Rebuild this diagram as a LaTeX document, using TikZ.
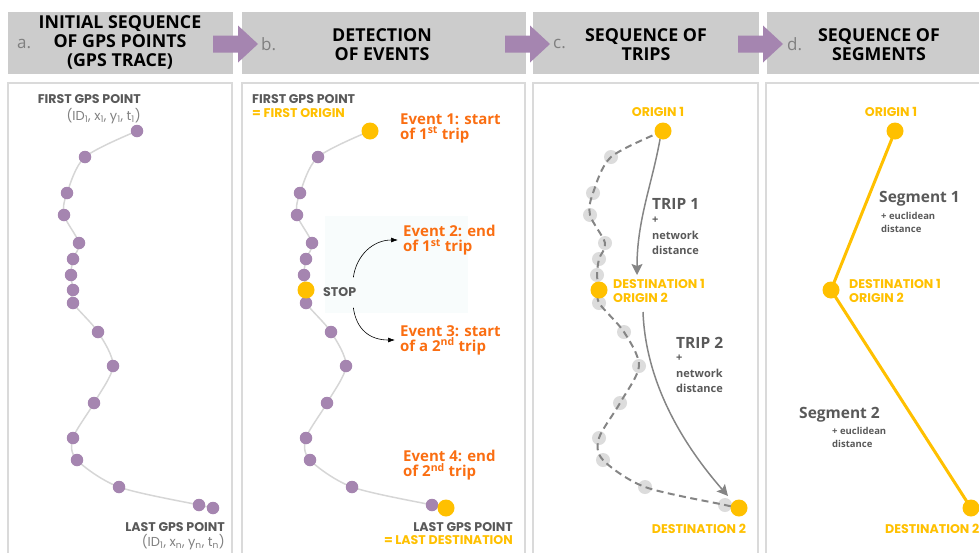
\documentclass[tikz,border=0pt]{standalone}
\usepackage{fontspec}
\setmainfont{Open Sans}
\newfontfamily\capsfont{Poppins}
\usetikzlibrary{arrows.meta,positioning}
\definecolor{gpspurple}{HTML}{A585B0}
\definecolor{gpsyellow}{HTML}{FFC000}
\definecolor{gpsorange}{HTML}{FA6E12}
\definecolor{headgray}{HTML}{CCCCCC}
\definecolor{panelgray}{HTML}{DADADA}
\definecolor{textgray}{HTML}{595959}
\definecolor{lettergray}{HTML}{808080}
\definecolor{tracegray}{HTML}{D6D6D6}
\definecolor{ghostgray}{HTML}{DCDCDC}
\definecolor{arrowgray}{HTML}{858585}
\definecolor{stopbg}{HTML}{F8FCFC}
\tikzstyle{header}   = [fill=headgray, minimum height=62pt, inner sep=0pt, anchor=north west]
\tikzstyle{panel}    = [draw=panelgray, line width=1.2pt]
\tikzstyle{gpsdot}   = [circle, fill=gpspurple, minimum size=12.5pt, inner sep=0pt]
\tikzstyle{ghostdot} = [circle, fill=ghostgray, minimum size=14pt, inner sep=0pt]
\tikzstyle{keydot}   = [circle, fill=gpsyellow, minimum size=17pt, inner sep=0pt]
\tikzstyle{title}    = [font=\bfseries\fontsize{17.8}{19}\selectfont, align=center, inner sep=0pt]
\tikzstyle{letter}   = [font=\fontsize{17}{19}\selectfont, text=lettergray, anchor=west, inner sep=0pt]
\tikzstyle{caps}     = [font=\capsfont\bfseries\fontsize{12.6}{14}\selectfont, text=textgray, inner sep=0pt]
\tikzstyle{coords}   = [font=\capsfont\fontsize{13}{14}\selectfont, text=lettergray, inner sep=0pt]
\tikzstyle{event}    = [font=\bfseries\fontsize{15}{15}\selectfont, text=gpsorange, align=left, anchor=west, inner sep=0pt]
\tikzstyle{trip}     = [font=\bfseries\fontsize{15.5}{18}\selectfont, text=textgray, anchor=west, inner sep=0pt]
\tikzstyle{tripnote} = [font=\bfseries\fontsize{11}{15.5}\selectfont, text=textgray, align=left, anchor=west, inner sep=0pt]
\tikzstyle{segnote}  = [font=\bfseries\fontsize{9.5}{13}\selectfont, text=textgray, align=left, anchor=west, inner sep=0pt]
\tikzstyle{trace}    = [draw=tracegray, line width=1.5pt]
\tikzstyle{dashtrace}= [draw=arrowgray, line width=2pt, dash pattern=on 7pt off 4.5pt]
\tikzstyle{segline}  = [draw=gpsyellow, line width=3pt]
\tikzstyle{arrow}    = [draw=arrowgray, line width=1.5pt, -{Stealth[length=11pt,width=11pt,inset=2pt]}]
\tikzstyle{bendarrow}= [line width=0.6pt, -{Latex[length=7pt,width=5pt]}]
\newcommand{\steparrow}[1]{\fill[gpspurple] (#1,35.5) -- ++(25,0) -- ++(0,-10) -- ++(20,18.5) -- ++(-20,18.5) -- ++(0,-10) -- ++(-25,0) -- cycle;}
\def\gpslist{137/131, 85/157, 67/193, 64/215, 79/243, 73/259, 71/275, 73/290, 73/303, 98/332, 113/366, 94/403, 73/438, 77/460, 119/487, 199/505, 213/508}

\begin{document}
\begin{tikzpicture}[x=1pt,y=-1pt]
	\useasboundingbox (0,0) rectangle (979,552);
	\clip (0,0) rectangle (979,552);

	% headers
	\node[header, minimum width=225pt] (heada) at (8,12) {};
	\node[header, minimum width=284pt] (headb) at (242,12) {};
	\node[header, minimum width=226pt] (headc) at (533,12) {};
	\node[header, minimum width=230pt] (headd) at (767,12) {};

	\node[letter] (leta) at (17,44) {a.};
	\node[letter] (letb) at (261,44) {b.};
	\node[letter] (letc) at (553,44) {c.};
	\node[letter] (letd) at (787,44) {d.};

	\node[title] (titlea) at (120,42.5) {INITIAL SEQUENCE\\OF GPS POINTS\\(GPS TRACE)};
	\node[title] (titleb) at (382,44.5) {DETECTION\\OF EVENTS};
	\node[title] (titlec) at (646,45) {SEQUENCE OF\\TRIPS};
	\node[title] (titled) at (879,45) {SEQUENCE OF\\SEGMENTS};

	\steparrow{213}
	\steparrow{505}
	\steparrow{738}

	% panels
	\draw[panel] (8,83) rectangle (232,570);
	\draw[panel] (242,83) rectangle (525,570);
	\draw[panel] (533,83) rectangle (758,570);
	\draw[panel] (766,83) rectangle (990,570);

	\foreach \x/\y [count=\i] in \gpslist {
		\coordinate (a\i) at (\x,\y);
		\coordinate (b\i) at (\x+233,\y);
		\coordinate (c\i) at (\x+526,\y);
		\coordinate (d\i) at (\x+758,\y);
	}

	% a. initial trace
	\draw[trace] plot[smooth] coordinates {(a1) (a2) (a3) (a4) (a5) (a6) (a7) (a8) (a9) (a10) (a11) (a12) (a13) (a14) (a15) (a16) (a17)};
	\foreach \i in {1,...,17} \node[gpsdot] (pa\i) at (a\i) {};

	\node[caps, anchor=east] (firsta) at (141,99) {FIRST GPS POINT};
	\node[coords, anchor=east] (ida) at (141,116) {(ID\textsubscript{1}, x\textsubscript{1}, y\textsubscript{1}, t\textsubscript{1})};
	\node[caps, anchor=east] (lasta) at (225,527) {LAST GPS POINT};
	\node[coords, anchor=east] (idn) at (225,542) {(ID\textsubscript{1}, x\textsubscript{n}, y\textsubscript{n}, t\textsubscript{n})};

	% b. events
	\fill[stopbg] (325,216) rectangle (468,313);
	\draw[trace] plot[smooth] coordinates {(b1) (b2) (b3) (b4) (b5) (b6) (b7) (b8) (b9) (b10) (b11) (b12) (b13) (b14) (b15) (b16) (b17)};
	\foreach \i in {2,...,7,9,10,...,16} \node[gpsdot] (pb\i) at (b\i) {};
	\foreach \i in {1,8,17} \node[keydot] (pb\i) at (b\i) {};

	\node[caps, anchor=west] (firstb) at (252,99) {FIRST GPS POINT};
	\node[caps, anchor=west, text=gpsyellow] (origb) at (252,113) {= FIRST ORIGIN};
	\node[event] (ev1) at (400,128) {Event 1: start\\of 1\textsuperscript{st} trip};
	\node[event] (ev2) at (403,240) {Event 2: end\\of 1\textsuperscript{st} trip};
	\node[caps, anchor=west] (stop) at (323,292) {STOP};
	\node[event] (ev3) at (400,340) {Event 3: start\\of a 2\textsuperscript{nd} trip};
	\node[event] (ev4) at (403,465) {Event 4: end\\of 2\textsuperscript{nd} trip};
	\node[caps, anchor=east] (lastb) at (513,527) {LAST GPS POINT};
	\node[caps, anchor=east, text=gpsyellow] (destb) at (513,540) {= LAST DESTINATION};

	\draw[bendarrow] ([shift={(-3,-10)}]stop.north east) .. controls +(3,-22) and +(-25,0) .. ([xshift=-5pt]ev2.west);
	\draw[bendarrow] ([shift={(-3,11)}]stop.south east) .. controls +(3,22) and +(-25,0) .. ([xshift=-5pt]ev3.west);

	% c. trips
	\foreach \i in {2,...,7,9,10,...,16} \node[ghostdot] (pc\i) at (c\i) {};
	\draw[dashtrace] plot[smooth] coordinates {(c1) (c2) (c3) (c4) (c5) (c6) (c7) (c8) (c9) (c10) (c11) (c12) (c13) (c14) (c15) (c16) (c17)};
	\foreach \i in {1,8,17} \node[keydot] (pc\i) at (c\i) {};

	\coordinate (t1end) at (637,275);
	\coordinate (t2start) at (643,312);
	\coordinate (t2end) at (728,496);
	\draw[arrow] (pc1.250) .. controls +(-8,45) and +(0,-55) .. (t1end);
	\draw[arrow] (t2start) .. controls +(3,80) and +(-35,-40) .. (t2end);

	\node[caps, text=gpsyellow] (orig1c) at (658,112) {ORIGIN 1};
	\node[trip] (trip1) at (652,204) {TRIP 1};
	\node[tripnote] (note1) at (652,236) {+\\network\\distance};
	\node[caps, text=gpsyellow, align=left, anchor=west] (dest1c) at (613,291) {DESTINATION 1\\ORIGIN 2};
	\node[trip] (trip2) at (676,343) {TRIP 2};
	\node[tripnote] (note2) at (676,374) {+\\network\\distance};
	\node[caps, text=gpsyellow] (dest2c) at (699,529) {DESTINATION 2};

	% d. segments
	\draw[segline] (d1) -- (d8) -- (d17);
	\foreach \i in {1,8,17} \node[keydot] (pd\i) at (d\i) {};

	\node[caps, text=gpsyellow] (orig1d) at (891,112) {ORIGIN 1};
	\node[trip] (seg1) at (879,199) {Segment 1};
	\node[segnote] (snote1) at (881,222) {+ euclidean\\distance};
	\node[caps, text=gpsyellow, align=left, anchor=west] (dest1d) at (849,291) {DESTINATION 1\\ORIGIN 2};
	\node[trip] (seg2) at (799,415) {Segment 2};
	\node[segnote] (snote2) at (832,437) {+ euclidean\\distance};
	\node[caps, text=gpsyellow, anchor=west] (dest2d) at (885,529) {DESTINATION 2};
\end{tikzpicture}
\end{document}
